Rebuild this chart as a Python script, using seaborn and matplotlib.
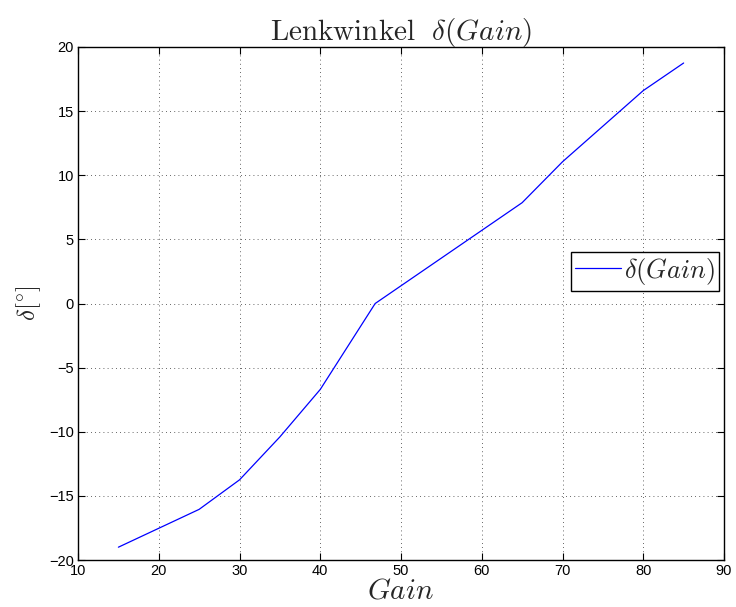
import matplotlib
matplotlib.use("Agg")
import matplotlib.pyplot as plt
import seaborn as sns
import pandas as pd

# Steering angle over controller gain
gain = [15, 25, 30, 35, 40, 46.8, 65, 70, 80, 85]
delta = [-19.0, -16.05, -13.75, -10.4, -6.7, 0.0, 7.86, 11.05, 16.6, 18.75]
x_ticks = [10, 20, 30, 40, 50, 60, 70, 80, 90]
y_ticks = [-20, -15, -10, -5, 0, 5, 10, 15, 20]

sns.set_theme(style="ticks")
plt.rcParams["font.family"] = ["Liberation Sans", "DejaVu Sans"]
plt.rcParams["mathtext.fontset"] = "cm"
plt.rcParams["axes.unicode_minus"] = True

df = pd.DataFrame({"Gain": gain, "delta": delta})

fig = plt.figure(figsize=(7.36, 6.07), dpi=100)
ax = fig.add_axes([0.106, 0.0774, 0.8777, 0.8452])

sns.lineplot(data=df, x="Gain", y="delta", ax=ax, color="#0000ff",
             linewidth=0.9, label=r"$\delta(Gain)$", sort=False)

ax.set_xlim(10, 90)
ax.set_ylim(-20, 20)
ax.set_xticks(x_ticks)
ax.set_yticks(y_ticks)
ax.tick_params(direction="in", length=5, width=0.8, top=True, right=True,
               labelsize=10.5, colors="black", pad=3)
for s in ax.spines.values():
    s.set_visible(True)
    s.set_color("black")
    s.set_linewidth(1.0)

ax.grid(True, linestyle=(0, (1, 4)), color="#333333", linewidth=0.6)

ax.set_title(r"$\mathrm{Lenkwinkel}\ \ \delta(Gain)$", fontsize=21, pad=5)
ax.set_xlabel(r"$Gain$", fontsize=21, labelpad=-1)
ax.set_ylabel(r"$\delta[^{\circ}]$", fontsize=18, labelpad=4)

leg = ax.legend(loc="center right", bbox_to_anchor=(0.992, 0.563),
                fontsize=19, frameon=True, fancybox=False, framealpha=1,
                edgecolor="black", handlelength=1.75, handletextpad=0.1,
                borderpad=0.15, borderaxespad=0)
leg.get_frame().set_linewidth(1.0)

fig.savefig("out.png", dpi=100)
